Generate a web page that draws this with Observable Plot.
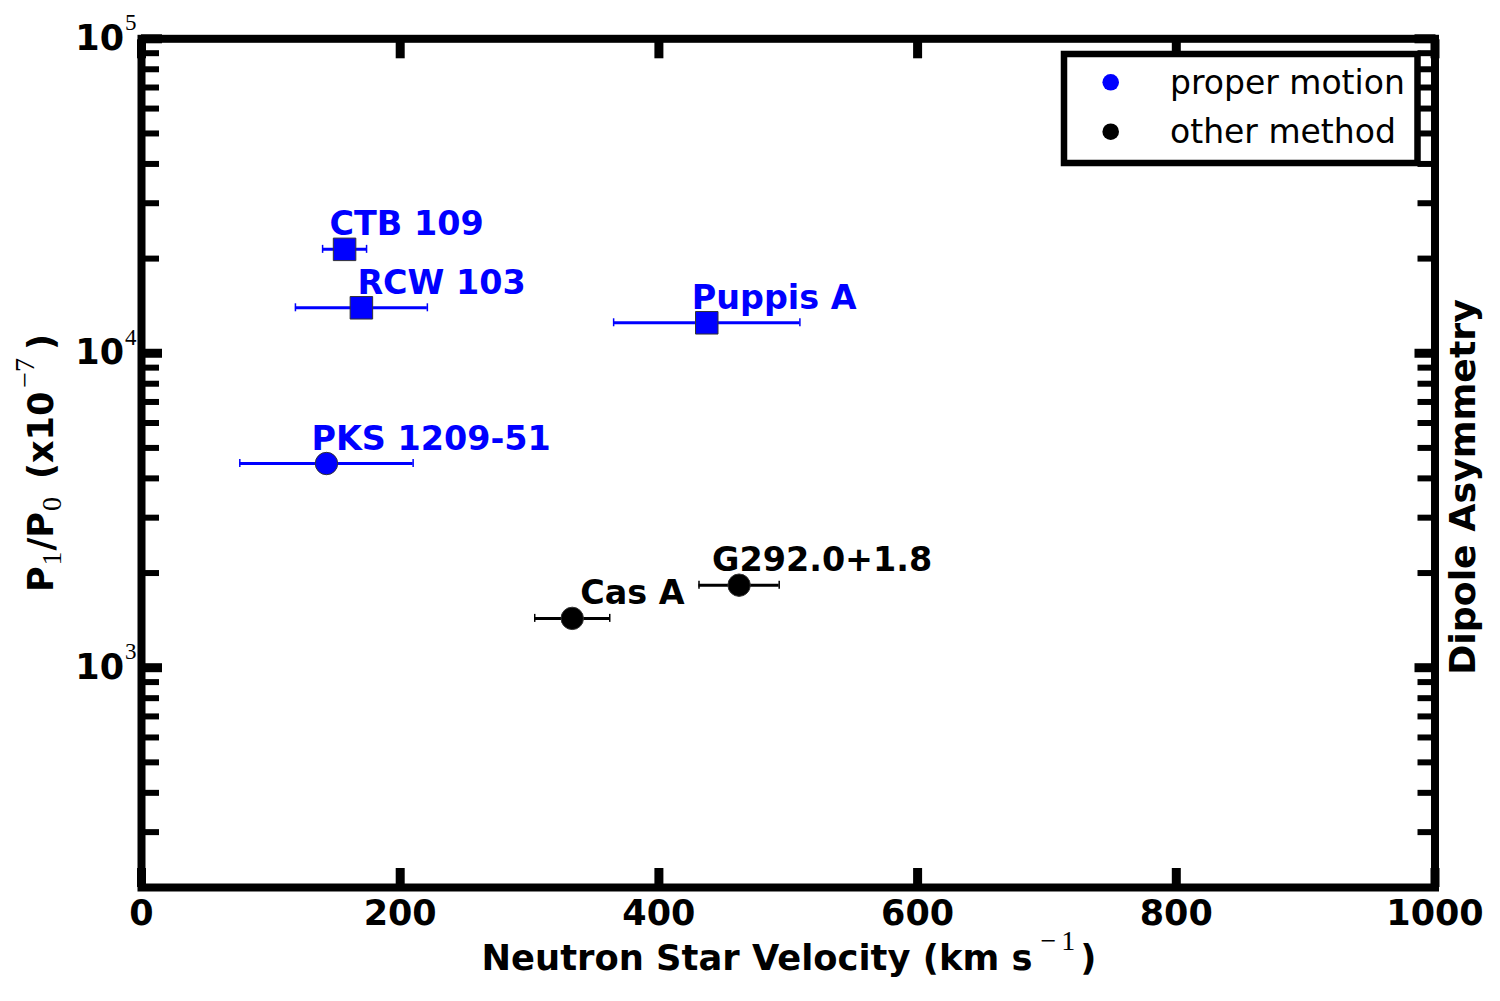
<!DOCTYPE html>
<html>
<head>
<meta charset="utf-8">
<script src="https://cdn.jsdelivr.net/npm/d3@7"></script>
<script src="https://cdn.jsdelivr.net/npm/@observablehq/plot@0.6"></script>
<style>
  html, body { margin: 0; padding: 0; background: #fff; }
  #chart svg { display: block; }
</style>
</head>
<body>
<div id="chart"></div>
<script>
// ---- data ----
const remnants   = ["CTB 109", "RCW 103", "Puppis A", "PKS 1209-51", "Cas A", "G292.0+1.8"];
const velocity   = [157, 170, 437, 143, 333, 462];          // km/s
const velocityErr= [17, 51, 72, 67, 29, 31];                // km/s
const asymmetry  = [21400, 13950, 12500, 4460, 1435, 1830]; // P1/P0 (x1e-7)
const method     = ["proper motion", "proper motion", "proper motion", "proper motion", "other method", "other method"];
const markerKind = ["square", "square", "square", "circle", "circle", "circle"];
const methods    = ["proper motion", "other method"];
const xTicks     = [0, 200, 400, 600, 800, 1000];
const yMajor     = [1e3, 1e4, 1e5];
const yMinor     = [300, 400, 500, 600, 700, 800, 900, 2000, 3000, 4000, 5000, 6000, 7000, 8000, 9000,
                    20000, 30000, 40000, 50000, 60000, 70000, 80000, 90000];

// ---- styling ----
const methodColor = {"proper motion": "#0000ff", "other method": "#000000"};
const labelDx = [-15, -4, -15, -15, 8, -27];

const rows = remnants.map((name, i) => ({
  name, v: velocity[i], e: velocityErr[i], p: asymmetry[i], method: method[i], kind: markerKind[i],
  color: methodColor[method[i]], i
}));

const FS = 35;
const LFS = 33.4;
const tickCommon = {tickFormat: () => "", label: null, stroke: "black"};

const marks = [
  // horizontal error bars
  Plot.ruleY(rows, {y: "p", x1: d => d.v - d.e, x2: d => d.v + d.e, stroke: "color", strokeWidth: 3}),
  Plot.ruleX(rows, {x: d => d.v - d.e, y1: "p", y2: "p", insetTop: -4, insetBottom: -4, stroke: "color", strokeWidth: 1.5}),
  Plot.ruleX(rows, {x: d => d.v + d.e, y1: "p", y2: "p", insetTop: -4, insetBottom: -4, stroke: "color", strokeWidth: 1.5}),
  // markers
  Plot.dot(rows.filter(d => d.kind === "square"), {x: "v", y: "p", symbol: "square", r: 12.7, fill: "color", stroke: "#333", strokeWidth: 1}),
  Plot.dot(rows.filter(d => d.kind === "circle"), {x: "v", y: "p", symbol: "circle", r: 11.2, fill: "color", stroke: "#333", strokeWidth: 1}),
  // labels
  ...rows.map(d => Plot.text([d], {x: "v", y: "p", text: "name", fill: "color", textAnchor: "start",
      lineAnchor: "bottom", dx: labelDx[d.i], dy: -14, fontSize: LFS, fontWeight: "bold"})),
  // frame
  Plot.frame({stroke: "black", strokeWidth: 8}),
  // x ticks (inward), bottom & top
  Plot.axisX(xTicks, {anchor: "bottom", tickSize: -19, strokeWidth: 9, ...tickCommon}),
  Plot.axisX(xTicks, {anchor: "top", tickSize: -19, strokeWidth: 9, ...tickCommon}),
  // x tick labels
  Plot.axisX(xTicks, {anchor: "bottom", tickSize: 0, tickPadding: 13, fontSize: FS, fontWeight: "bold",
      tickFormat: d => String(d), label: null}),
  // y ticks (inward), left & right
  Plot.axisY(yMajor, {anchor: "left", tickSize: -21, strokeWidth: 9, ...tickCommon}),
  Plot.axisY(yMinor, {anchor: "left", tickSize: -18, strokeWidth: 6, ...tickCommon}),
  Plot.axisY(yMajor, {anchor: "right", tickSize: -21, strokeWidth: 9, ...tickCommon}),
  Plot.axisY(yMinor, {anchor: "right", tickSize: -18, strokeWidth: 6, ...tickCommon}),
  // y tick labels
  Plot.axisY(yMajor, {anchor: "left", tickSize: 0, tickPadding: 5, fontSize: FS, fontWeight: "bold",
      tickFormat: d => "10^" + Math.round(Math.log10(d)), label: null})
];

const chart = Plot.plot({
  width: 1500, height: 1001,
  marginLeft: 141, marginRight: 65.5, marginTop: 38.3, marginBottom: 114,
  style: {fontFamily: "DejaVu Sans", background: "white", color: "black"},
  color: {type: "identity"},
  x: {domain: [0, 1000]},
  y: {type: "log", domain: [200, 1e5]},
  marks
});
document.getElementById("chart").appendChild(chart);

// ---- rich text post-processing ----
const svg = d3.select(chart);
const SERIF = "Liberation Serif";

svg.selectAll('g[aria-label="y-axis tick label"] text').each(function() {
  const t = this.textContent;
  const m = /^10\^(-?\d+)$/.exec(t);
  if (!m) return;
  const sel = d3.select(this);
  sel.text("10");
  sel.append("tspan").attr("font-family", SERIF).attr("font-weight", "normal")
     .attr("font-size", 23).attr("dy", "-0.85em").attr("dx", 1).text(m[1]);
});

// axis titles
const bold = {"font-family": "DejaVu Sans", "font-weight": "bold", "font-size": FS, "fill": "black"};
function applyAttrs(sel, attrs) { for (const k in attrs) sel.attr(k, attrs[k]); return sel; }
const SUP = 28;

const xt = applyAttrs(svg.append("text"), bold).attr("font-size", 35.3).attr("x", 789).attr("y", 970).attr("text-anchor", "middle");
xt.append("tspan").text("Neutron Star Velocity (km s");
xt.append("tspan").attr("font-family", SERIF).attr("font-weight", "normal").attr("font-size", SUP)
  .attr("dy", -20).attr("dx", 8).text("\u2212");
xt.append("tspan").attr("font-family", SERIF).attr("font-weight", "normal").attr("font-size", SUP)
  .attr("dx", 5).text("1");
xt.append("tspan").attr("dy", 20).attr("dx", 5).text(")");

const yt = applyAttrs(svg.append("text"), bold).attr("text-anchor", "middle")
  .attr("transform", "translate(53,463) rotate(-90)");
yt.append("tspan").text("P");
yt.append("tspan").attr("font-family", SERIF).attr("font-weight", "normal").attr("font-size", SUP).attr("dy", 8).attr("dx", 1).text("1");
yt.append("tspan").attr("dy", -8).attr("dx", 1).text("/P");
yt.append("tspan").attr("font-family", SERIF).attr("font-weight", "normal").attr("font-size", SUP).attr("dy", 8).attr("dx", 1).text("0");
yt.append("tspan").attr("dy", -8).attr("dx", 18).text("(x10");
yt.append("tspan").attr("font-family", SERIF).attr("font-weight", "normal").attr("font-size", SUP).attr("dy", -19).attr("dx", 4).text("\u22127");
yt.append("tspan").attr("dy", 19).attr("dx", 8).text(")");

applyAttrs(svg.append("text"), bold).attr("font-size", 36.3).attr("text-anchor", "middle")
  .attr("transform", "translate(1475,487) rotate(-90)").text("Dipole Asymmetry");

// legend (inside the axes, upper right)
const lg = svg.append("g").attr("aria-label", "legend");
lg.append("rect").attr("x", 1064).attr("y", 54).attr("width", 353.5).attr("height", 109)
  .attr("fill", "white").attr("stroke", "black").attr("stroke-width", 6.5);
methods.forEach((m, k) => {
  const cy = 82.3 + k * 49.4;
  lg.append("circle").attr("cx", 1110.7).attr("cy", cy).attr("r", 8.3).attr("fill", methodColor[m]);
  lg.append("text").attr("x", 1170).attr("y", cy + 11.3).attr("font-family", "DejaVu Sans")
    .attr("text-anchor", "start").attr("font-size", 33).attr("fill", "black").text(m);
});
</script>
</body>
</html>
